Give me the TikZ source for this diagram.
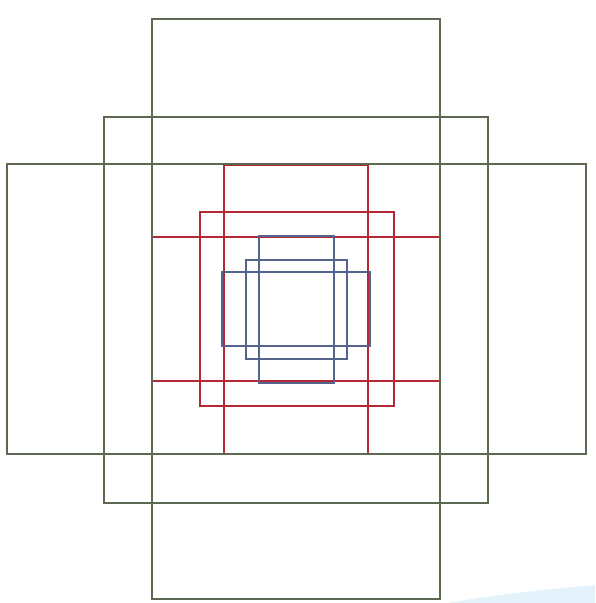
\documentclass[tikz,border=0pt]{standalone}
\begin{document}
\definecolor{olivebox}{RGB}{92,104,82}
\definecolor{redbox}{RGB}{180,40,52}
\definecolor{bluebox}{RGB}{84,100,140}
\definecolor{smudge}{RGB}{228,242,252}
\begin{tikzpicture}[x=1pt, y=-1pt, line width=1.6pt,
        large/.style={draw=olivebox}, medium/.style={draw=redbox}, small/.style={draw=bluebox}]
        \useasboundingbox (0,0) rectangle (595,603);
        \fill[smudge] (448,603) .. controls (500,594) and (550,589) .. (595,585) -- (595,603) -- cycle;
        \foreach \xa/\ya/\xb/\yb in {224/165/368/454, 200/212/394/406, 152/237/440/381} {
            \draw[medium] (\xa,\ya) rectangle (\xb,\yb);
        }
        \foreach \xa/\ya/\xb/\yb in {259/236/334/383, 246/260/347/359, 222/272/370/346} {
            \draw[small] (\xa,\ya) rectangle (\xb,\yb);
        }
        \foreach \xa/\ya/\xb/\yb in {152/19/440/599, 104/117/488/503, 7/164/586/454} {
            \draw[large] (\xa,\ya) rectangle (\xb,\yb);
        }
    \end{tikzpicture}
\end{document}
